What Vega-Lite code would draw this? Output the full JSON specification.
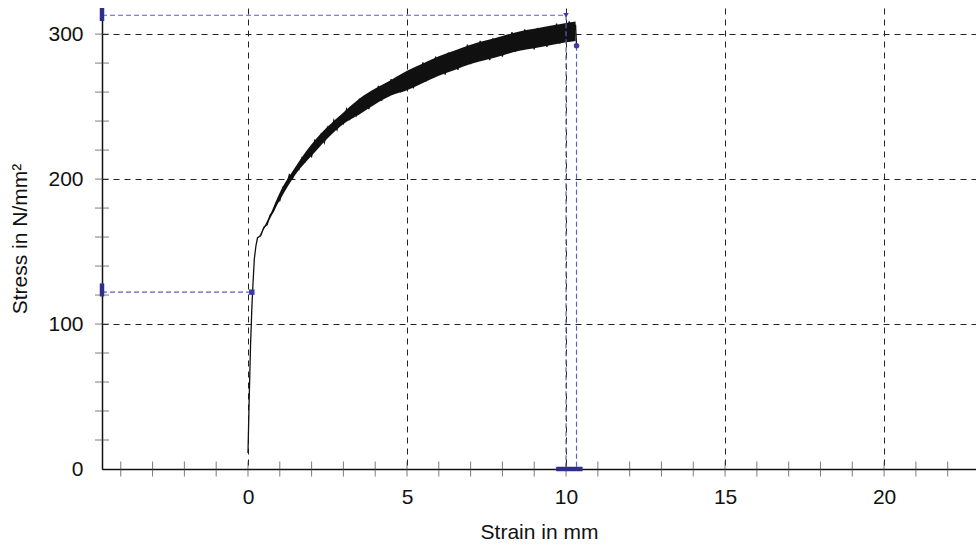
{
  "$schema": "https://vega.github.io/schema/vega-lite/v6.json",
  "width": 874,
  "height": 461,
  "autosize": {"type": "none"},
  "padding": {"left": 102, "top": 8, "right": 0, "bottom": 81},
  "background": "white",
  "config": {"view": {"stroke": null}, "font": "Liberation Sans"},
  "datasets": {
    "curve": [
      {"x": 0.0, "y": 11}, {"x": 0.04, "y": 50}, {"x": 0.08, "y": 85}, {"x": 0.12, "y": 110}, {"x": 0.15, "y": 125}, {"x": 0.2, "y": 145}, {"x": 0.25, "y": 154},
      {"x": 0.3, "y": 159.5}, {"x": 0.4, "y": 160.8}, {"x": 0.5, "y": 166.9}, {"x": 0.6, "y": 168.5}, {"x": 0.7, "y": 175.4}, {"x": 0.8, "y": 177.7}, {"x": 0.9, "y": 184.4},
      {"x": 1.0, "y": 185}, {"x": 1.1, "y": 194.4}, {"x": 1.2, "y": 194.2}, {"x": 1.3, "y": 203}, {"x": 1.4, "y": 200.3}, {"x": 1.5, "y": 207.5}, {"x": 1.6, "y": 206.6},
      {"x": 1.7, "y": 214.8}, {"x": 1.8, "y": 212.1}, {"x": 1.9, "y": 219.1}, {"x": 2.0, "y": 215.5}, {"x": 2.1, "y": 226.5}, {"x": 2.2, "y": 222.6}, {"x": 2.3, "y": 230.8},
      {"x": 2.4, "y": 225.1}, {"x": 2.5, "y": 235.6}, {"x": 2.6, "y": 231.3}, {"x": 2.7, "y": 240.5}, {"x": 2.8, "y": 234}, {"x": 2.9, "y": 242.3}, {"x": 3.0, "y": 238.4},
      {"x": 3.1, "y": 248.1}, {"x": 3.2, "y": 241.6}, {"x": 3.3, "y": 249.5}, {"x": 3.4, "y": 243.9}, {"x": 3.5, "y": 255.4}, {"x": 3.6, "y": 248.4}, {"x": 3.7, "y": 257.6},
      {"x": 3.8, "y": 248.2}, {"x": 3.9, "y": 260.4}, {"x": 4.0, "y": 253.4}, {"x": 4.1, "y": 264.2}, {"x": 4.2, "y": 254}, {"x": 4.3, "y": 263.6}, {"x": 4.4, "y": 257},
      {"x": 4.5, "y": 269}, {"x": 4.6, "y": 259.2}, {"x": 4.7, "y": 268.6}, {"x": 4.8, "y": 260}, {"x": 4.9, "y": 272.4}, {"x": 5.0, "y": 264.3}, {"x": 5.1, "y": 275},
      {"x": 5.2, "y": 262.5}, {"x": 5.3, "y": 277}, {"x": 5.4, "y": 267.5}, {"x": 5.5, "y": 280.5}, {"x": 5.6, "y": 267.3}, {"x": 5.7, "y": 278.8}, {"x": 5.8, "y": 270},
      {"x": 5.9, "y": 284.5}, {"x": 6.0, "y": 272}, {"x": 6.1, "y": 283.3}, {"x": 6.2, "y": 272.1}, {"x": 6.3, "y": 287.2}, {"x": 6.4, "y": 277.5}, {"x": 6.5, "y": 288},
      {"x": 6.6, "y": 275.3}, {"x": 6.7, "y": 289.6}, {"x": 6.8, "y": 279.9}, {"x": 6.9, "y": 292.7}, {"x": 7.0, "y": 279.3}, {"x": 7.1, "y": 290.4}, {"x": 7.2, "y": 281.2},
      {"x": 7.3, "y": 295.3}, {"x": 7.4, "y": 282.4}, {"x": 7.5, "y": 293.5}, {"x": 7.6, "y": 282.1}, {"x": 7.7, "y": 297}, {"x": 7.8, "y": 287.1}, {"x": 7.9, "y": 297.4},
      {"x": 8.0, "y": 284.5}, {"x": 8.1, "y": 298.6}, {"x": 8.2, "y": 288.7}, {"x": 8.3, "y": 301.3}, {"x": 8.4, "y": 287.7}, {"x": 8.5, "y": 298.8}, {"x": 8.6, "y": 289.4},
      {"x": 8.7, "y": 303.3}, {"x": 8.8, "y": 290.2}, {"x": 8.9, "y": 301.1}, {"x": 9.0, "y": 289.5}, {"x": 9.1, "y": 304.2}, {"x": 9.2, "y": 294.1}, {"x": 9.3, "y": 304.2},
      {"x": 9.4, "y": 291.1}, {"x": 9.5, "y": 305}, {"x": 9.6, "y": 294.9}, {"x": 9.7, "y": 307.3}, {"x": 9.8, "y": 293.5}, {"x": 9.9, "y": 304.4}, {"x": 10.0, "y": 295},
      {"x": 10.1, "y": 308.8}, {"x": 10.2, "y": 295.7}, {"x": 10.3, "y": 306.5}, {"x": 10.33, "y": 292}
    ],
    "band": [
      {"x": 0.35, "lo": 159.8, "hi": 160.6}, {"x": 0.7, "lo": 173, "hi": 175.6},
      {"x": 1.0, "lo": 185.3, "hi": 190.7}, {"x": 1.5, "lo": 203.3, "hi": 208.7}, {"x": 2.0, "lo": 216, "hi": 224}, {"x": 2.5, "lo": 228, "hi": 236},
      {"x": 3.0, "lo": 238, "hi": 246}, {"x": 3.5, "lo": 244.6, "hi": 255.4}, {"x": 4.0, "lo": 251.6, "hi": 262.4}, {"x": 4.5, "lo": 257.6, "hi": 268.4},
      {"x": 5.0, "lo": 261.3, "hi": 274.7}, {"x": 5.5, "lo": 266.3, "hi": 279.7}, {"x": 6.0, "lo": 271.3, "hi": 284.7}, {"x": 6.5, "lo": 275.3, "hi": 288.7},
      {"x": 7.0, "lo": 279.3, "hi": 292.7}, {"x": 7.5, "lo": 282.3, "hi": 295.7}, {"x": 8.0, "lo": 285.3, "hi": 298.7}, {"x": 8.5, "lo": 288.3, "hi": 301.7},
      {"x": 9.0, "lo": 290.3, "hi": 303.7}, {"x": 9.5, "lo": 292.3, "hi": 305.7}, {"x": 10.0, "lo": 294.3, "hi": 307.7}, {"x": 10.3, "lo": 295.3, "hi": 308.7}
    ],
    "guides": [
      {"x": -4.59, "y": 313, "x2": 10.0, "y2": 313},
      {"x": -4.59, "y": 122, "x2": 0.12, "y2": 122},
      {"x": 10.0, "y": 313, "x2": 10.0, "y2": 0},
      {"x": 10.33, "y": 292, "x2": 10.33, "y2": 0}
    ],
    "bars": [
      {"x": -4.59, "y": 309, "x2": -4.59, "y2": 318},
      {"x": -4.59, "y": 119, "x2": -4.59, "y2": 128},
      {"x": 9.69, "y": 0, "x2": 10.52, "y2": 0}
    ],
    "markers": [
      {"x": 10.0, "y": 313, "m": "tri"},
      {"x": 10.33, "y": 292, "m": "dot"},
      {"x": 0.12, "y": 122, "m": "sq"}
    ],
    "xticks": [
      {"t": -4}, {"t": -3}, {"t": -2}, {"t": -1}, {"t": 0}, {"t": 1}, {"t": 2}, {"t": 3}, {"t": 4}, {"t": 5}, {"t": 6}, {"t": 7}, {"t": 8}, {"t": 9},
      {"t": 10}, {"t": 11}, {"t": 12}, {"t": 13}, {"t": 14}, {"t": 15}, {"t": 16}, {"t": 17}, {"t": 18}, {"t": 19}, {"t": 20}, {"t": 21}, {"t": 22}
    ],
    "yticks": [
      {"t": 20}, {"t": 40}, {"t": 60}, {"t": 80}, {"t": 100}, {"t": 120}, {"t": 140}, {"t": 160}, {"t": 180}, {"t": 200}, {"t": 220}, {"t": 240}, {"t": 260}, {"t": 280}, {"t": 300}
    ]
  },
  "layer": [
    {
      "data": {"name": "band"},
      "mark": {"type": "area", "color": "#111", "opacity": 1, "interpolate": "monotone"},
      "encoding": {
        "x": {
          "field": "x", "type": "quantitative",
          "scale": {"domain": [-4.59, 22.89], "nice": false, "zero": false},
          "axis": {
            "values": [0, 5, 10, 15, 20], "grid": true, "gridDash": [6, 5], "gridColor": "#222", "gridWidth": 1,
            "ticks": false, "domain": true, "domainColor": "#111", "domainWidth": 1.5,
            "labelFontSize": 21, "labelColor": "#111", "labelPadding": 17, "labelFlush": false,
            "title": "Strain in mm", "titleFontSize": 21, "titleFontWeight": "normal", "titleColor": "#111", "titlePadding": 14
          }
        },
        "y": {
          "field": "lo", "type": "quantitative",
          "scale": {"domain": [0, 318], "nice": false, "zero": false},
          "axis": {
            "values": [0, 100, 200, 300], "grid": true, "gridDash": [6, 5], "gridColor": "#222", "gridWidth": 1,
            "ticks": false, "domain": true, "domainColor": "#111", "domainWidth": 1.5,
            "labelFontSize": 21, "labelColor": "#111", "labelPadding": 19,
            "title": "Stress in N/mm²", "titleFontSize": 21, "titleFontWeight": "normal", "titleColor": "#111", "titlePadding": 17
          }
        },
        "y2": {"field": "hi"}
      }
    },
    {
      "data": {"name": "curve"},
      "mark": {"type": "line", "color": "#111", "strokeWidth": 1.3},
      "encoding": {
        "x": {"field": "x", "type": "quantitative"},
        "y": {"field": "y", "type": "quantitative"},
        "order": {"field": "x", "type": "quantitative"}
      }
    },
    {
      "data": {"name": "guides"},
      "mark": {"type": "rule", "color": "#5c5cc8", "strokeWidth": 1.2, "strokeDash": [5, 3]},
      "encoding": {
        "x": {"field": "x", "type": "quantitative"},
        "y": {"field": "y", "type": "quantitative"},
        "x2": {"field": "x2"},
        "y2": {"field": "y2"}
      }
    },
    {
      "data": {"name": "bars"},
      "mark": {"type": "rule", "color": "#2e2e8c", "strokeWidth": 4.5},
      "encoding": {
        "x": {"field": "x", "type": "quantitative"},
        "y": {"field": "y", "type": "quantitative"},
        "x2": {"field": "x2"},
        "y2": {"field": "y2"}
      }
    },
    {
      "data": {"name": "markers"},
      "mark": {"type": "point", "filled": true, "color": "#3a3aa8", "size": 30, "opacity": 1},
      "encoding": {
        "x": {"field": "x", "type": "quantitative"},
        "y": {"field": "y", "type": "quantitative"},
        "shape": {"field": "m", "type": "nominal", "scale": {"domain": ["tri", "dot", "sq"], "range": ["triangle-down", "circle", "square"]}, "legend": null}
      }
    },
    {
      "data": {"name": "xticks"},
      "mark": {"type": "tick", "orient": "vertical", "color": "#444", "thickness": 1, "size": 15},
      "encoding": {
        "x": {"field": "t", "type": "quantitative"},
        "y": {"datum": 0, "type": "quantitative"}
      }
    },
    {
      "data": {"name": "yticks"},
      "mark": {"type": "tick", "orient": "horizontal", "color": "#444", "thickness": 1, "size": 14},
      "encoding": {
        "y": {"field": "t", "type": "quantitative"},
        "x": {"datum": -4.59, "type": "quantitative"}
      }
    }
  ]
}
